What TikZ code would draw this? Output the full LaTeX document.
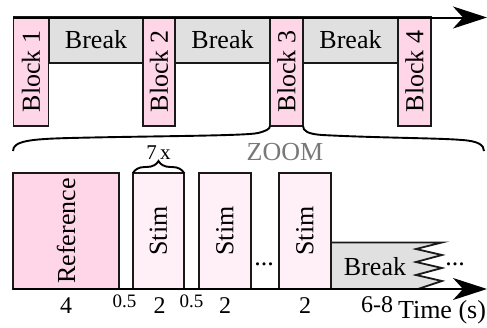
\documentclass[tikz,border=0pt]{standalone}
\usepackage{fontspec}
\setmainfont{Liberation Serif}
\usetikzlibrary{arrows.meta,decorations.pathreplacing}
\definecolor{pinkc}{RGB}{255,214,232}
\definecolor{stimc}{RGB}{255,240,247}
\definecolor{brkc}{RGB}{224,224,224}
\definecolor{linec}{RGB}{25,25,25}
\definecolor{zoomc}{RGB}{120,120,120}
\begin{document}
\begin{tikzpicture}[x=1pt,y=-1pt,
  box/.style={draw=linec, line width=1.8pt, inner sep=0pt, outer sep=0pt, font=\fontsize{26}{28}\selectfont},
  blockbox/.style={box, fill=pinkc, rotate=90},
  brkbox/.style={box, fill=brkc},
  stimbox/.style={box, fill=stimc, rotate=90},
  lbl/.style={font=\fontsize{26}{28}\selectfont, inner sep=0pt, anchor=base},
  num/.style={font=\fontsize{24}{26}\selectfont, inner sep=0pt, anchor=base},
  smallnum/.style={font=\fontsize{19}{20}\selectfont, inner sep=0pt, anchor=base},
  axis/.style={line width=2pt, -{Stealth[length=34pt,width=22pt,inset=10pt]}},
  curl/.style={line width=1.9pt, draw=black}
]
\useasboundingbox (0,0) rectangle (487,327);

% top row: breaks then blocks
\node[brkbox, minimum width=94pt, minimum height=46pt] (br1) at (96,40) {Break};
\node[brkbox, minimum width=95pt, minimum height=46pt] (br2) at (222.5,40) {Break};
\node[brkbox, minimum width=95pt, minimum height=46pt] (br3) at (350.5,40) {Break};
\node[blockbox, minimum width=109pt, minimum height=35pt] (b1) at (31,71.5) {Block 1};
\node[blockbox, minimum width=109pt, minimum height=32pt] (b2) at (159,71.5) {Block 2};
\node[blockbox, minimum width=109pt, minimum height=33pt] (b3) at (286.5,71.5) {Block 3};
\node[blockbox, minimum width=109pt, minimum height=33pt] (b4) at (414.5,71.5) {Block 4};

\coordinate (ta0) at (13,17.5);
\coordinate (ta1) at (487,17.5);
\draw[axis] (ta0) -- (ta1);

% zoom brace
\coordinate (zl) at (13,151);
\coordinate (zr) at (484,151);
\draw[curl] (zl) .. controls (13,141) and (30,139) .. (70,138)
  .. controls (150,136) and (245,136) .. (258,133)
  .. controls (266,131) and (270,129) .. (b3.north west);
\draw[curl] (b3.south west) .. controls (303,131) and (308,134) .. (322,135)
  .. controls (380,138) and (440,138) .. (462,140)
  .. controls (478,141) and (484,145) .. (zr);
\node[lbl, text=zoomc] (zoom) at (285,160) {ZOOM};

% bottom row
\coordinate (bk0) at (331,242.5);
\coordinate (bk1) at (442,242.5);
\fill[brkc] (bk0) -- (bk1) -- (416,249) -- (442,255) -- (416,262) -- (442,268) -- (416,275) -- (442,281) -- (418,289) -- (331,289) -- cycle;
\draw[line width=1.8pt, draw=linec] (bk0) -- (bk1) -- (416,249) -- (442,255) -- (416,262) -- (442,268) -- (416,275) -- (442,281) -- (418,289);
\node[lbl] (brk) at (375,275) {Break};
\node[lbl] (dots2) at (455,265) {...};

\node[blockbox, minimum width=116pt, minimum height=106pt] (ref) at (66,231) {Reference};
\node[stimbox, minimum width=116pt, minimum height=51pt] (s1) at (158.5,231) {Stim};
\node[stimbox, minimum width=116pt, minimum height=52pt] (s2) at (225,231) {Stim};
\node[lbl] (dots1) at (264,265) {...};
\node[stimbox, minimum width=116pt, minimum height=52pt] (s3) at (305,231) {Stim};

\draw[curl, decorate, decoration={brace, amplitude=12pt}] (s1.north east) -- (s1.south east);
\node[font=\fontsize{21}{22}\selectfont, inner sep=0pt, anchor=base] (rep) at (158.5,159) {7\,x};

\coordinate (ba0) at (13,289);
\coordinate (ba1) at (487,289);
\draw[axis] (ba0) -- (ba1);

% durations
\node[num] (d1) at (66,313) {4};
\node[smallnum] (d2) at (124.5,307) {0.5};
\node[num] (d3) at (159.5,313) {2};
\node[smallnum] (d4) at (191.5,307) {0.5};
\node[num] (d5) at (225,313) {2};
\node[num] (d6) at (305,313) {2};
\node[num] (d7) at (377,312) {6-8};
\node[lbl] (tl) at (442,318) {Time (s)};
\end{tikzpicture}
\end{document}
